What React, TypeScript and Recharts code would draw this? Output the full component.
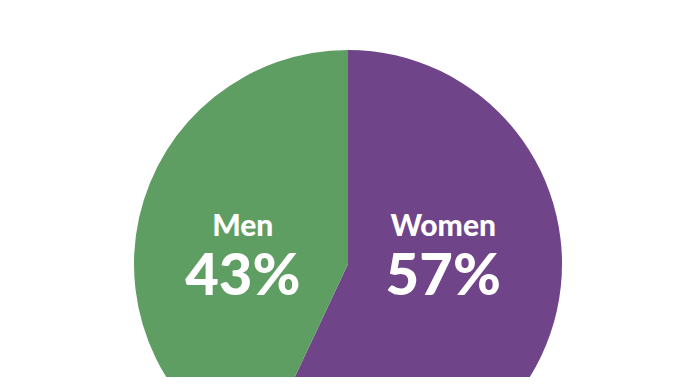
import { PieChart, Pie, Cell } from 'recharts';

const groups = ['Women', 'Men'];
const shares = [57, 43];
const colors = ['#6f4489', '#5f9e62'];

const data = groups.map((name, i) => ({ name, value: shares[i] }));

const RADIAN = Math.PI / 180;

function renderLabel(props: any) {
  const { cx, cy, midAngle, outerRadius, name, value } = props;
  const x = cx - 5 + outerRadius * 0.48 * Math.cos(-midAngle * RADIAN);
  return (
    <g>
      <text
        x={x}
        y={cy - 28}
        textAnchor="middle"
        fill="#fff"
        fontFamily="Lato, sans-serif"
        fontWeight={900}
        fontSize={30}
      >
        {name}
      </text>
      <text
        x={x}
        y={cy + 31}
        textAnchor="middle"
        fill="#fff"
        fontFamily="Lato, sans-serif"
        fontWeight={900}
        fontSize={58}
      >
        {value}%
      </text>
    </g>
  );
}

export default function App() {
  return (
    <div style={{ margin: -8, width: 696, height: 385, background: '#fff', overflow: 'hidden' }}>
      <PieChart width={696} height={385} margin={{ top: 0, right: 0, bottom: 0, left: 0 }}>
        <Pie
          data={data}
          dataKey="value"
          cx={348}
          cy={264}
          outerRadius={214}
          startAngle={90}
          endAngle={-270}
          stroke="none"
          labelLine={false}
          label={renderLabel}
          isAnimationActive={false}
        >
          {data.map((entry, index) => (
            <Cell key={`cell-${index}`} fill={colors[index]} />
          ))}
        </Pie>
      </PieChart>
    </div>
  );
}
